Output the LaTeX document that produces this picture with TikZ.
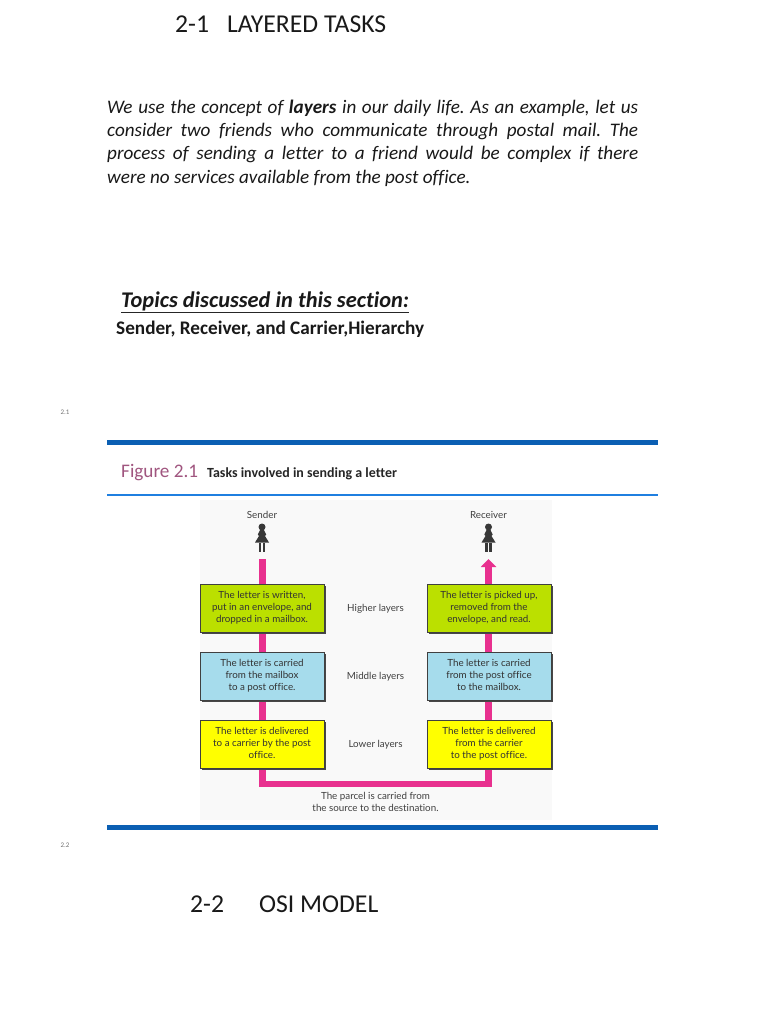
\documentclass[tikz,border=0pt]{standalone}
\usepackage{fontspec}
\setmainfont[Ligatures=NoCommon]{Carlito}
\newfontfamily\figfont[Ligatures=NoCommon]{Lato}
\usetikzlibrary{arrows.meta,backgrounds}
\pgfdeclarelayer{pipes}
\pgfsetlayers{background,pipes,main}
\newcommand{\fsz}[1]{\fontsize{#1}{#1}\selectfont}
\newcommand{\lnstrut}{\rule[-3pt]{0pt}{12pt}}
\tikzset{
  stepbox/.style={draw=black!75,line width=0.5pt,minimum width=124pt,minimum height=48pt,inner sep=0pt,align=center,
    font=\figfont\fsz{9.8}\color{black!80},execute at begin node=\setlength{\baselineskip}{12pt}\lnstrut,execute at end node=\lnstrut},
  shadowbox/.style={fill=black!72,draw=none,minimum width=124pt,minimum height=48pt,inner sep=0pt},
  greenbox/.style={stepbox,fill=boxgreen},
  bluebox/.style={stepbox,fill=boxblue},
  yellowbox/.style={stepbox,fill=boxyellow},
  lbl/.style={inner sep=0pt,align=center,font=\figfont\fsz{9.8}\color{black!75},execute at begin node=\setlength{\baselineskip}{12pt}\lnstrut,execute at end node=\lnstrut},
  pipe/.style={draw=pipepink,line width=6.5pt,line join=miter},
  pagenum/.style={inner sep=0pt,font=\fsz{7}\color{black!55}},
  title/.style={inner sep=0pt,anchor=west,font=\fsz{25.7}\color{black!90}},
  woman/.style={fill=black!78,draw=none}
}
\definecolor{boxgreen}{HTML}{BBE000}
\definecolor{boxblue}{HTML}{A6DCEC}
\definecolor{boxyellow}{HTML}{FFFF00}
\definecolor{pipepink}{HTML}{E8318F}
\definecolor{rulebig}{HTML}{0B5FB3}
\definecolor{ruleblue}{HTML}{1F7FE0}
\definecolor{figpink}{HTML}{A0557F}
\definecolor{figbg}{HTML}{F9F9F9}
\newcommand{\womanat}[2]{%
  \begin{scope}[shift={(#1,#2)}]
    \fill[woman] (0,-11) circle (3.5);
    \fill[woman] (-2,-8) -- (2,-8) -- (4.2,-3.5) -- (3,-2) -- (7,4.5) -- (-7,4.5) -- (-3,-2) -- (-4.2,-3.5) -- cycle;
    \fill[woman] (-3.2,4.5) rectangle (-0.8,14);
    \fill[woman] (0.8,4.5) rectangle (3.2,14);
  \end{scope}}
\begin{document}
\begin{tikzpicture}[x=1pt,y=-1pt]
\begin{scope}[on background layer]
  \fill[white] (0,0) rectangle (768,1024);
  \fill[figbg] (200,500) rectangle (552,820);
\end{scope}
\useasboundingbox (0,0) rectangle (768,1024);

\node[title] (t1) at (175,24) {2-1\hspace{18pt}LAYERED TASKS};
\node[inner sep=0pt,anchor=north west,text width=531pt,align=justify,font=\fsz{19.15}\itshape\color{black!90}\frenchspacing,execute at begin node=\setlength{\baselineskip}{23.3pt}] (para) at (107,99.5)
 {We use the concept of \textbf{layers} in our daily life. As an example, let us\linebreak consider two friends who communicate through postal mail. The\linebreak process of sending a letter to a friend would be complex if there\linebreak were no services available from the post office.};
\node[inner sep=0pt,anchor=west,font=\fsz{22.4}\bfseries\itshape\color{black!90}] (topics) at (121,301.5) {Topics discussed in this section:};
\draw[line width=1.2pt,black!85] (topics.west |- 0,312.5) -- (topics.east |- 0,312.5);
\node[inner sep=0pt,anchor=west,font=\fsz{19.2}\bfseries\color{black!90}] (sub) at (116,329) {Sender, Receiver, and Carrier,Hierarchy};
\node[pagenum] (n1) at (65,412) {2.1};
\node[pagenum] (n2) at (65,845) {2.2};
\node[title] (t2) at (190,904) {2-2\hspace{35pt}OSI MODEL};

% figure
\fill[rulebig] (107,440) rectangle (658,445);
\draw[draw=ruleblue,line width=1.5pt] (107,495.2) -- (658,495.2);
\fill[rulebig] (107,824.5) rectangle (658,829.5);
\node[inner sep=0pt,anchor=west,font=\fsz{19.2}\color{figpink}] (figno) at (121,473) {Figure 2.1};
\node[inner sep=0pt,anchor=west,font=\fsz{13.95}\bfseries\color{black!85}] (figcap) at (207,474) {Tasks involved in sending a letter};

\node[lbl] (sender) at (262,515.5) {Sender};
\node[lbl] (receiver) at (488.5,515.5) {Receiver};
\womanat{262}{538}
\womanat{488.5}{538}
\coordinate (upL) at (262.5,559);
\coordinate (upR) at (488.5,559);

\node[shadowbox] (shHL) at (263.7,609.7) {};
\node[shadowbox] (shHR) at (490.7,609.7) {};
\node[shadowbox] (shML) at (263.7,677.7) {};
\node[shadowbox] (shMR) at (490.7,677.7) {};
\node[shadowbox] (shLL) at (263.7,745.7) {};
\node[shadowbox] (shLR) at (490.7,745.7) {};

\node[greenbox] (hL) at (262,608) {The letter is written,\\put in an envelope, and\\dropped in a mailbox.};
\node[greenbox] (hR) at (489,608) {The letter is picked up,\\removed from the\\envelope, and read.};
\node[bluebox] (mL) at (262,676) {The letter is carried\\from the mailbox\\to a post office.};
\node[bluebox] (mR) at (489,676) {The letter is carried\\from the post office\\to the mailbox.};
\node[yellowbox] (lL) at (262,744) {The letter is delivered\\to a carrier by the post\\office.};
\node[yellowbox] (lR) at (489,744) {The letter is delivered\\from the carrier\\to the post office.};

\node[lbl] (hi) at (375.5,608) {Higher layers};
\node[lbl] (mi) at (375.5,676) {Middle layers};
\node[lbl] (lo) at (375.5,744) {Lower layers};
\node[lbl] (parcel) at (375.5,803) {The parcel is carried from\\the source to the destination.};
\coordinate (chan) at (375.5,784);

\begin{pgfonlayer}{pipes}
  \draw[pipe] (upL) -- (hL.north -| upL);
  \draw[pipe] (hL.south -| upL) -- (mL.north -| upL);
  \draw[pipe] (mL.south -| upL) -- (lL.north -| upL);
  \draw[pipe,-{Triangle[length=8pt,width=15pt]}] (hR.north -| upR) -- (upR);
  \draw[pipe] (hR.south -| upR) -- (mR.north -| upR);
  \draw[pipe] (mR.south -| upR) -- (lR.north -| upR);
  \draw[pipe] (lL.south -| upL) |- (chan) -| (lR.south -| upR);
\end{pgfonlayer}
\end{tikzpicture}
\end{document}
